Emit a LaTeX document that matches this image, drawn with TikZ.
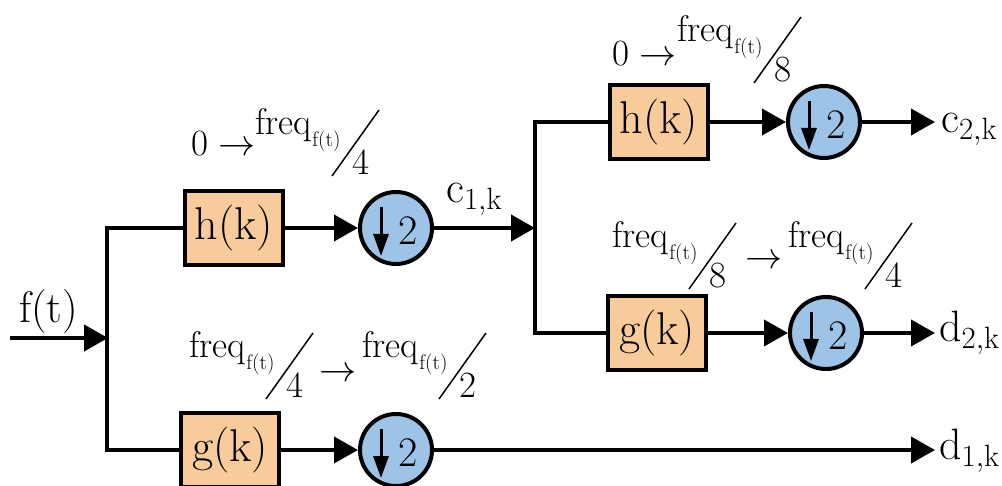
\RequirePackage{fix-cm}
\documentclass[tikz,border=0pt]{standalone}
\usetikzlibrary{arrows.meta}

\definecolor{boxfill}{RGB}{248,203,155}
\definecolor{circfill}{RGB}{157,195,230}

\tikzset{
  wire/.style={line width=4pt},
  flow/.style={wire,-{Triangle[length=24pt,width=26pt]}},
  filt/.style={draw,line width=4pt,fill=boxfill,minimum width=98pt,
    minimum height=74pt,inner sep=0pt,font=\fontsize{46}{52}\selectfont},
  down/.style={draw,circle,line width=4pt,fill=circfill,minimum size=72pt,inner sep=0pt},
  shaft/.style={line width=3pt,-{Triangle[length=22pt,width=15pt]}},
  digit/.style={inner sep=0pt,font=\fontsize{42}{48}\selectfont},
  sig/.style={inner sep=0pt,font=\fontsize{44}{50}\selectfont},
  lab/.style={inner sep=0pt,font=\fontsize{37}{44}\selectfont},
  sublab/.style={inner sep=0pt,font=\fontsize{21}{25}\selectfont},
  slash/.style={line width=1.5pt},
  % frequency band label: freq_{f(t)} / <denominator>
  pics/band/.style={code={
    \node[lab,anchor=base west] (-num) at (0,0) {freq};
    \node[sublab,anchor=base west] (-sub) at ([xshift=0.5pt,yshift=-12pt]-num.base east) {f(t)};
    \draw[slash] (77,41) -- (124,-25);
    \node[lab,anchor=base west] (-den) at (97,40) {#1};
  }},
}

\begin{document}
\begin{tikzpicture}[x=1pt,y=-1pt]
\useasboundingbox (0,0) rectangle (1002,486);

% filter blocks
\node[filt] (h1) at (234,228) {h(k)};
\node[filt] (g1) at (230,450) {g(k)};
\node[filt] (h2) at (659,122) {h(k)};
\node[filt] (g2) at (657,333) {g(k)};

% downsamplers
\node[down] (dA) at (396,228) {};
\node[down] (dB) at (824,122) {};
\node[down] (dC) at (826,333) {};
\node[down] (dD) at (396,450) {};
\foreach \d in {dA,dB,dC,dD}{
  \draw[shaft] ([xshift=-15pt,yshift=21pt]\d.center) -- ([xshift=-15pt,yshift=-28pt]\d.center);
  \node[digit] (\d-n) at ([xshift=12pt,yshift=-3pt]\d.center) {2};
}

% branch points and free ends
\coordinate (in) at (10,338);
\coordinate (s1) at (108,338);
\coordinate (s1t) at (107,228);
\coordinate (s1b) at (107,450);
\coordinate (s2) at (535,228);
\coordinate (s2t) at (535,122);
\coordinate (s2b) at (535,333);
\coordinate (c2e) at (935,122);
\coordinate (d2e) at (935,333);
\coordinate (d1e) at (935,450);

% first level
\draw[flow] (in) -- (s1);
\draw[wire] (h1.west) -- (s1t) -- (s1b) -- (g1.west);
\draw[flow] (h1) -- (dA);
\draw[flow] (dA) -- (s2);
\draw[flow] (g1) -- (dD);
\draw[flow] (dD) -- (d1e);

% second level
\draw[wire] (h2.west) -- (s2t) -- (s2b) -- (g2.west);
\draw[flow] (h2) -- (dB);
\draw[flow] (dB) -- (c2e);
\draw[flow] (g2) -- (dC);
\draw[flow] (dC) -- (d2e);

% signal names
\node[sig,anchor=base west] (ft) at (19,323) {f(t)};
\node[sig,anchor=base west] (c1) at (446,203) {$\mathrm{c}_{\mathrm{1,k}}$};
\node[sig,anchor=base west] (c2) at (941,133) {$\mathrm{c}_{\mathrm{2,k}}$};
\node[sig,anchor=base west] (d2) at (939,342) {$\mathrm{d}_{\mathrm{2,k}}$};
\node[sig,anchor=base west] (d1) at (939,460) {$\mathrm{d}_{\mathrm{1,k}}$};

% frequency bands
\node[lab,anchor=base west] (z1) at (191,156) {$0\rightarrow$};
\pic (L1) at (255,135) {band=4};
\node[lab,anchor=base west] (z2) at (612,66) {$0\rightarrow$};
\pic (L2) at (677,42) {band=8};
\pic (L3a) at (612,248) {band=8};
\node[lab] (r3) at (764,262) {$\rightarrow$};
\pic (L3b) at (788,248) {band=4};
\pic (L4a) at (189,358) {band=4};
\node[lab] (r4) at (338,375) {$\rightarrow$};
\pic (L4b) at (362,358) {band=2};
\end{tikzpicture}
\end{document}
